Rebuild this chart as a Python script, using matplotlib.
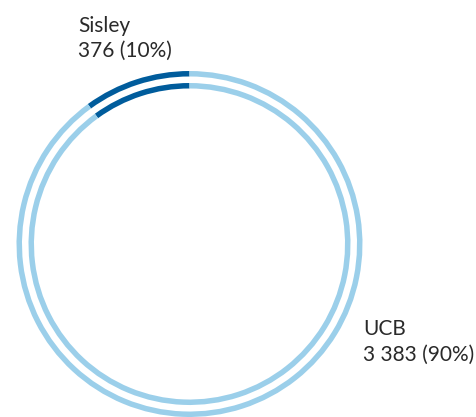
import matplotlib.pyplot as plt

labels = ["Sisley", "UCB"]
values = [376, 3383]
value_text = ["376 (10%)", "3 383 (90%)"]
colors = ["#005c9c", "#9bcfea"]

fig = plt.figure(figsize=(4.77, 4.17), dpi=100)
ax = fig.add_axes([0, 0, 1, 1])

cx, cy = 189.5, 417 - 244
# outer ring and inner ring
for r in (173, 161):
    ax.pie(values, colors=colors, startangle=90, counterclock=True,
           radius=r, center=(cx, cy),
           wedgeprops=dict(width=5.5, linewidth=0, edgecolor="none"))

ax.set_xlim(0, 477)
ax.set_ylim(0, 417)
ax.set_aspect("equal")
ax.axis("off")

font = dict(family="Lato", fontsize=15, color="#2a2a2a", fontweight="normal")
ax.text(78, 417 - 32, labels[0], ha="left", va="baseline", **font)
ax.text(78, 417 - 57, value_text[0], ha="left", va="baseline", **font)
ax.text(363, 417 - 335, labels[1], ha="left", va="baseline", **font)
ax.text(363, 417 - 361, value_text[1], ha="left", va="baseline", **font)

fig.savefig("out.png", dpi=100)
